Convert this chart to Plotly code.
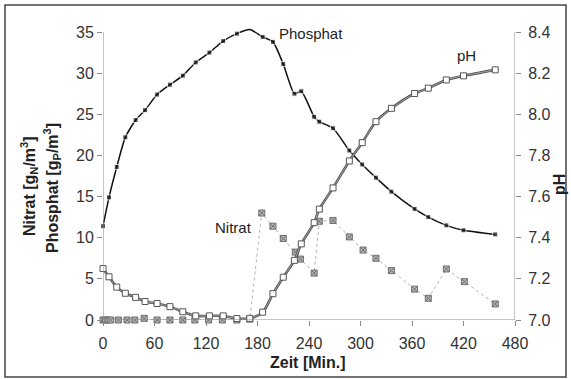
import plotly.graph_objects as go

# Sampling times [min]
zeit = [0, 7, 16, 26, 38, 49, 63, 78, 93, 108, 124, 140, 156, 171, 186, 198,
        210, 223, 231, 246, 252, 268, 287, 302, 318, 336, 363, 379, 400, 420, 457]
zeit_n = [0, 3, 6, 9, 18, 28, 37, 48, 63, 78, 93, 107, 123, 139, 156, 171, 185,
          198, 210, 224, 230, 246, 252, 268, 287, 303, 318, 336, 363, 379, 400,
          421, 457]

# Phosphate [gP/m3]
phosphat = [11.4, 14.9, 18.6, 22.2, 24.3, 25.5, 27.4, 28.6, 29.7, 31.3, 32.5,
            33.9, 34.8, 35.3, 34.4, 33.8, 31.1, 27.5, 27.8, 24.7, 24.1, 23.3,
            20.6, 18.9, 17.3, 15.6, 13.5, 12.5, 11.5, 10.9, 10.4]

# Nitrate [gN/m3]
nitrat = [0, 0, 0, 0, 0, 0, 0, 0.2, 0, 0, 0, 0, 0, 0, 0, 0.1, 13.0, 11.4, 9.9,
          8.25, 7.4, 5.7, 12.0, 12.1, 10.1, 8.5, 7.5, 6.0, 3.75, 2.64, 6.2, 4.66,
          1.95]

# pH
ph = [7.25, 7.21, 7.16, 7.13, 7.11, 7.09, 7.08, 7.065, 7.04, 7.02, 7.02, 7.02,
      7.007, 7.008, 7.038, 7.128, 7.208, 7.29, 7.37, 7.473, 7.539, 7.642, 7.773,
      7.862, 7.964, 8.029, 8.101, 8.127, 8.167, 8.187, 8.216]

x_ticks = [0, 60, 120, 180, 240, 300, 360, 420, 480]
y_ticks = [0, 5, 10, 15, 20, 25, 30, 35]
ph_ticks = [7.0, 7.2, 7.4, 7.6, 7.8, 8.0, 8.2, 8.4]

FONT = "Liberation Sans, Arial, sans-serif"
AX = "#8a8a8a"
TXT = "#333333"

# plot area geometry (pixels)
W, H = 571, 379
L, R, T, B = 103, 56, 25, 59
PW, PH = W - L - R, H - T - B
Y_TOP = 35 * PH / 288.0          # headroom above the 35 tick
PH_TOP = 7.0 + Y_TOP / 25.0      # pH axis: 0.2 pH per 5 g/m3


def px(xp):
    return (xp - L) / PW


def py(yp):
    return (H - B - yp) / PH


# the phosphate sample at 171 min carries no visible marker
p_sizes = [0 if t == 171 else 5 for t in zeit]

fig = go.Figure()

# Nitrate: dotted grey line with hatched square markers
fig.add_trace(go.Scatter(
    x=zeit_n, y=nitrat, mode="lines+markers",
    line=dict(color="#b0b0b0", width=1, dash="dot"),
    marker=dict(symbol="square-x", size=6, color="#b8b8b8",
                line=dict(color="#6e6e6e", width=1)),
    cliponaxis=False, showlegend=False))

# Phosphate: black line with filled squares
fig.add_trace(go.Scatter(
    x=zeit, y=phosphat, mode="lines+markers",
    line=dict(color="#111111", width=1.5, shape="spline", smoothing=0.6),
    marker=dict(symbol="square", size=p_sizes, color="#111111"),
    cliponaxis=False, showlegend=False))

# pH: grey double-tone line with open squares (right axis)
fig.add_trace(go.Scatter(
    x=zeit, y=ph, yaxis="y2", mode="lines",
    line=dict(color="#555555", width=2.6, shape="spline", smoothing=0.8),
    cliponaxis=False, showlegend=False))
fig.add_trace(go.Scatter(
    x=zeit, y=ph, yaxis="y2", mode="lines+markers",
    line=dict(color="#a8a8a8", width=0.9, shape="spline", smoothing=0.8),
    marker=dict(symbol="square", size=6, color="white",
                line=dict(color="#555555", width=1)),
    cliponaxis=False, showlegend=False))

tickfont = dict(family=FONT, size=16, color=TXT)
common = dict(showgrid=False, zeroline=False, showline=False,
              tickcolor=AX, ticklen=5, tickwidth=1)

fig.update_layout(
    width=W, height=H,
    margin=dict(l=L, r=R, t=T, b=B),
    paper_bgcolor="white", plot_bgcolor="white",
    xaxis=dict(range=[0, 480], tickvals=x_ticks, ticks="outside",
               tickfont=tickfont, ticklabelstandoff=4, **common),
    yaxis=dict(range=[0, Y_TOP], tickvals=y_ticks, ticks="outside",
               tickfont=tickfont, **common),
    yaxis2=dict(range=[7.0, PH_TOP], tickvals=ph_ticks, tickformat=".1f",
                overlaying="y", side="right", anchor="x", ticks="outside",
                tickfont=tickfont, ticklabelstandoff=4, **common),
    # inner halves of the crossing tick marks
    xaxis2=dict(range=[0, 480], tickvals=x_ticks, ticks="inside",
                overlaying="x", showticklabels=False, anchor="y", **common),
    yaxis3=dict(range=[0, Y_TOP], tickvals=y_ticks, ticks="inside",
                overlaying="y", showticklabels=False, anchor="x", **common),
    yaxis4=dict(range=[7.0, PH_TOP], tickvals=ph_ticks, ticks="inside",
                overlaying="y", side="right", showticklabels=False,
                anchor="x", **common),
)

# axis lines end at the last tick
axis_line = dict(color=AX, width=1)
fig.add_shape(type="line", xref="x", yref="y", x0=0, x1=480, y0=0, y1=0,
              line=axis_line)
fig.add_shape(type="line", xref="x", yref="y", x0=0, x1=0, y0=0, y1=35,
              line=axis_line)
fig.add_shape(type="line", xref="x", yref="y", x0=480, x1=480, y0=0, y1=35,
              line=axis_line)

label_font = dict(family=FONT, size=15, color="#222222")
title_font = dict(family=FONT, size=16, color="#222222")
c = dict(showarrow=False, xanchor="center", yanchor="middle")

annotations = [
    dict(x=242, y=34.8, xref="x", yref="y", text="Phosphat", font=label_font, **c),
    dict(x=423, y=32.1, xref="x", yref="y", text="pH", font=label_font, **c),
    dict(x=152.6, y=11.2, xref="x", yref="y", text="Nitrat", font=label_font, **c),
    dict(x=px(308), y=py(362), xref="paper", yref="paper",
         text="<b>Zeit [Min.]</b>", font=title_font, **c),
    dict(x=px(29), y=py(186), xref="paper", yref="paper",
         textangle=-90, text="<b>Nitrat [g<sub>N</sub>/m<sup>3</sup>]</b>",
         font=title_font, **c),
    dict(x=px(52), y=py(188), xref="paper", yref="paper",
         textangle=-90, text="<b>Phosphat [g<sub>P</sub>/m<sup>3</sup>]</b>",
         font=title_font, **c),
    dict(x=px(559), y=py(185), xref="paper", yref="paper",
         textangle=-90, text="<b>pH</b>", font=title_font, **c),
]
fig.update_layout(annotations=annotations)

# chart frame
fig.add_shape(type="rect", xref="paper", yref="paper",
              x0=px(5), x1=px(566), y0=py(377), y1=py(5),
              line=dict(color="#444444", width=1.5))

fig.write_html("out.html")
